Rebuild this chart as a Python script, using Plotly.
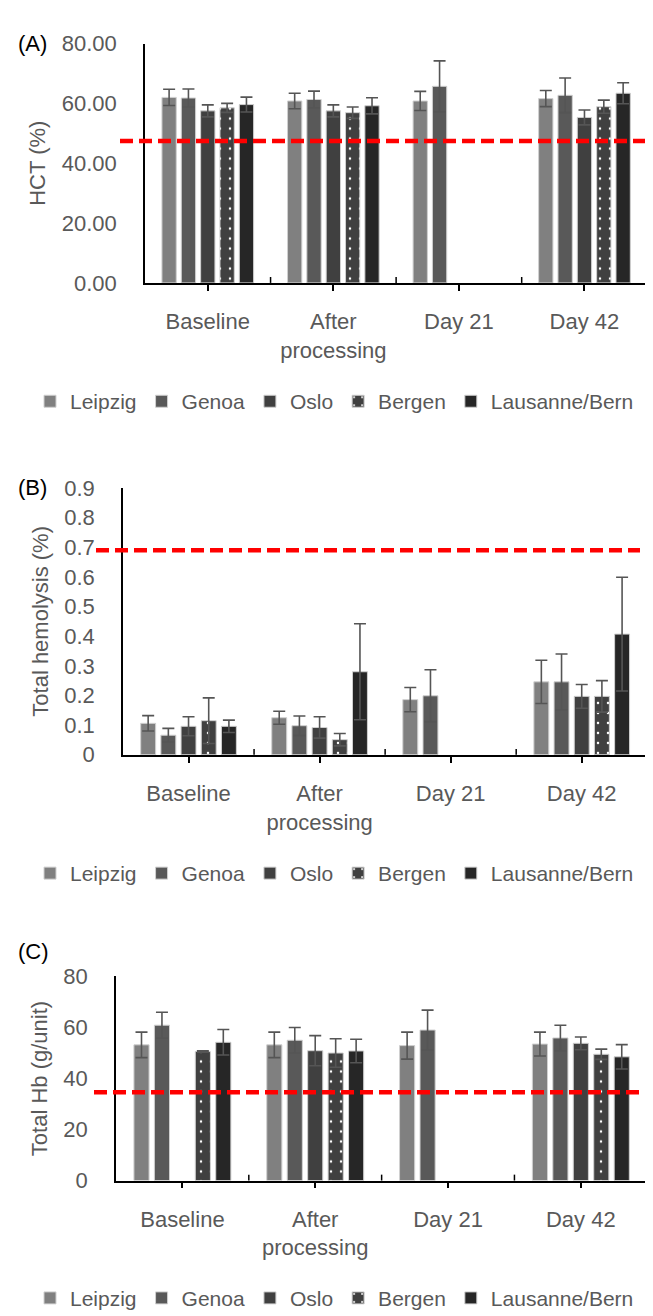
import plotly.graph_objects as go

# ---------------- data ----------------
categories = ["Baseline", "After<br>processing", "Day 21", "Day 42"]
sites = ["Leipzig", "Genoa", "Oslo", "Bergen", "Lausanne/Bern"]

# Panel A: HCT (%)
hct_leipzig = [62.0, 60.8, 60.8, 61.6]
hct_genoa = [61.8, 61.3, 65.7, 62.7]
hct_oslo = [57.5, 57.5, None, 55.3]
hct_bergen = [58.5, 56.9, None, 58.9]
hct_lausanne = [59.6, 59.2, None, 63.4]
hct_err_leipzig = [2.7, 2.6, 3.2, 2.7]
hct_err_genoa = [3.0, 2.8, 8.5, 5.8]
hct_err_oslo = [2.0, 2.0, None, 2.5]
hct_err_bergen = [1.5, 1.9, None, 2.2]
hct_err_lausanne = [2.5, 2.7, None, 3.5]
hct_limit = 47.4

# Panel B: Total hemolysis (%)
hem_leipzig = [0.106, 0.125, 0.186, 0.246]
hem_genoa = [0.066, 0.098, 0.199, 0.246]
hem_oslo = [0.096, 0.092, None, 0.197]
hem_bergen = [0.115, 0.051, None, 0.197]
hem_lausanne = [0.096, 0.280, None, 0.407]
hem_err_leipzig = [0.026, 0.022, 0.041, 0.073]
hem_err_genoa = [0.023, 0.033, 0.088, 0.094]
hem_err_oslo = [0.032, 0.036, None, 0.040]
hem_err_bergen = [0.077, 0.021, None, 0.053]
hem_err_lausanne = [0.021, 0.162, None, 0.192]
hem_limit = 0.69

# Panel C: Total Hb (g/unit)
hb_leipzig = [53.2, 53.2, 52.9, 53.5]
hb_genoa = [60.9, 55.0, 59.0, 55.9]
hb_oslo = [None, 50.9, None, 53.8]
hb_bergen = [50.6, 50.0, None, 49.5]
hb_lausanne = [54.2, 50.8, None, 48.5]
hb_err_leipzig = [5.0, 5.0, 5.3, 4.7]
hb_err_genoa = [5.1, 5.0, 7.8, 5.0]
hb_err_oslo = [None, 5.9, None, 2.5]
hb_err_bergen = [0.3, 5.6, None, 2.0]
hb_err_lausanne = [5.0, 4.6, None, 4.8]
hb_limit = 34.6

# ---------------- styling ----------------
colors = ["#808080", "#595959", "#404040", "#404040", "#262626"]
FONT = "Liberation Sans, Arial, sans-serif"
GRAY = "#595959"
W, H = 653, 1316

panels = [
    dict(vals=[hct_leipzig, hct_genoa, hct_oslo, hct_bergen, hct_lausanne],
         errs=[hct_err_leipzig, hct_err_genoa, hct_err_oslo, hct_err_bergen, hct_err_lausanne],
         limit=hct_limit, title="HCT (%)", rng=[0, 80], dtick=20, fmt=".2f",
         left=137, top=24, bottom=268, legend_y=389, line_x0=112, line_x1=653, letter="(A)",
         letter_y=24),
    dict(vals=[hem_leipzig, hem_genoa, hem_oslo, hem_bergen, hem_lausanne],
         errs=[hem_err_leipzig, hem_err_genoa, hem_err_oslo, hem_err_bergen, hem_err_lausanne],
         limit=hem_limit, title="Total hemolysis (%)", rng=[0, 0.9], dtick=0.1, fmt="",
         left=115, top=477, bottom=749, legend_y=870, line_x0=88, line_x1=632, letter="(B)",
         letter_y=477),
    dict(vals=[hb_leipzig, hb_genoa, hb_oslo, hb_bergen, hb_lausanne],
         errs=[hb_err_leipzig, hb_err_genoa, hb_err_oslo, hb_err_bergen, hb_err_lausanne],
         limit=hb_limit, title="Total Hb (g/unit)", rng=[0, 80], dtick=20, fmt="",
         left=108, top=975, bottom=1183, legend_y=1303, line_x0=86, line_x1=631, letter="(C)",
         letter_y=950),
]

fig = go.Figure()
shapes = []
annotations = []
RIGHT = 640

for p_i, p in enumerate(panels):
    n = "" if p_i == 0 else str(p_i + 1)
    xa, ya = "x" + n, "y" + n
    leg = "legend" + n
    for s_i, site in enumerate(sites):
        marker = dict(color=colors[s_i], line=dict(color="#d0d0d0", width=1))
        if site == "Bergen":
            marker["pattern"] = dict(shape=".", fgcolor="white", bgcolor=colors[s_i],
                                     fillmode="replace", size=10, solidity=0.05)
        fig.add_trace(go.Bar(
            x=categories, y=p["vals"][s_i], name=site, marker=marker,
            error_y=dict(type="data", array=p["errs"][s_i], visible=True,
                         color="#555555", thickness=1.6, width=6),
            xaxis=xa, yaxis=ya, legend=leg, showlegend=True,
        ))

    xdom = [p["left"] / W, RIGHT / W]
    ydom = [1 - p["bottom"] / H, 1 - p["top"] / H]
    fig.layout["xaxis" + n] = dict(
        domain=xdom, anchor=ya, type="category", showline=True, linecolor="black",
        linewidth=1.5, ticks="outside", ticklen=6, tickwidth=1.5, tickcolor="black",
        ticklabelstandoff=12,
        tickfont=dict(family=FONT, size=22, color=GRAY), showgrid=False, zeroline=False,
        fixedrange=True,
    )
    fig.layout["yaxis" + n] = dict(
        domain=ydom, anchor=xa, range=p["rng"], dtick=p["dtick"], tick0=0,
        tickformat=p["fmt"], showline=True, linecolor="black", linewidth=1.5,
        ticks="", showgrid=False, zeroline=False, ticklabelstandoff=22,
        tickfont=dict(family=FONT, size=22, color=GRAY),
        title=dict(text=p["title"], font=dict(family=FONT, size=22, color=GRAY), standoff=10),
        fixedrange=True,
    )
    fig.layout[leg] = dict(
        orientation="h", x=0.5, xanchor="center", y=1 - p["legend_y"] / H, yanchor="middle",
        font=dict(family=FONT, size=21, color=GRAY), bgcolor="rgba(0,0,0,0)",
        itemwidth=30, traceorder="normal",
    )
    # threshold line
    shapes.append(dict(type="line", xref="paper", yref=ya, x0=p["line_x0"] / W,
                       x1=p["line_x1"] / W, y0=p["limit"], y1=p["limit"],
                       line=dict(color="#FF0000", width=4.5, dash="13px,6px"), layer="above"))
    # category boundary ticks (Excel style)
    for b in range(len(categories)):
        shapes.append(dict(type="line", xref=xa, yref=ya + " domain", x0=b + 0.5, x1=b + 0.5,
                           y0=0, y1=24 / (p["bottom"] - p["top"]) * 0.25,
                           line=dict(color="black", width=1.5)))
    annotations.append(dict(text=p["letter"], xref="paper", yref="paper", x=8 / W,
                            y=1 - p["letter_y"] / H, xanchor="left", yanchor="middle",
                            showarrow=False, font=dict(family=FONT, size=22, color="black")))

fig.update_layout(
    width=W, height=H, margin=dict(l=0, r=0, t=0, b=0),
    paper_bgcolor="white", plot_bgcolor="white",
    barmode="group", bargap=0.23, bargroupgap=0.26,
    shapes=shapes, annotations=annotations, showlegend=True,
)

fig.write_html("out.html")
